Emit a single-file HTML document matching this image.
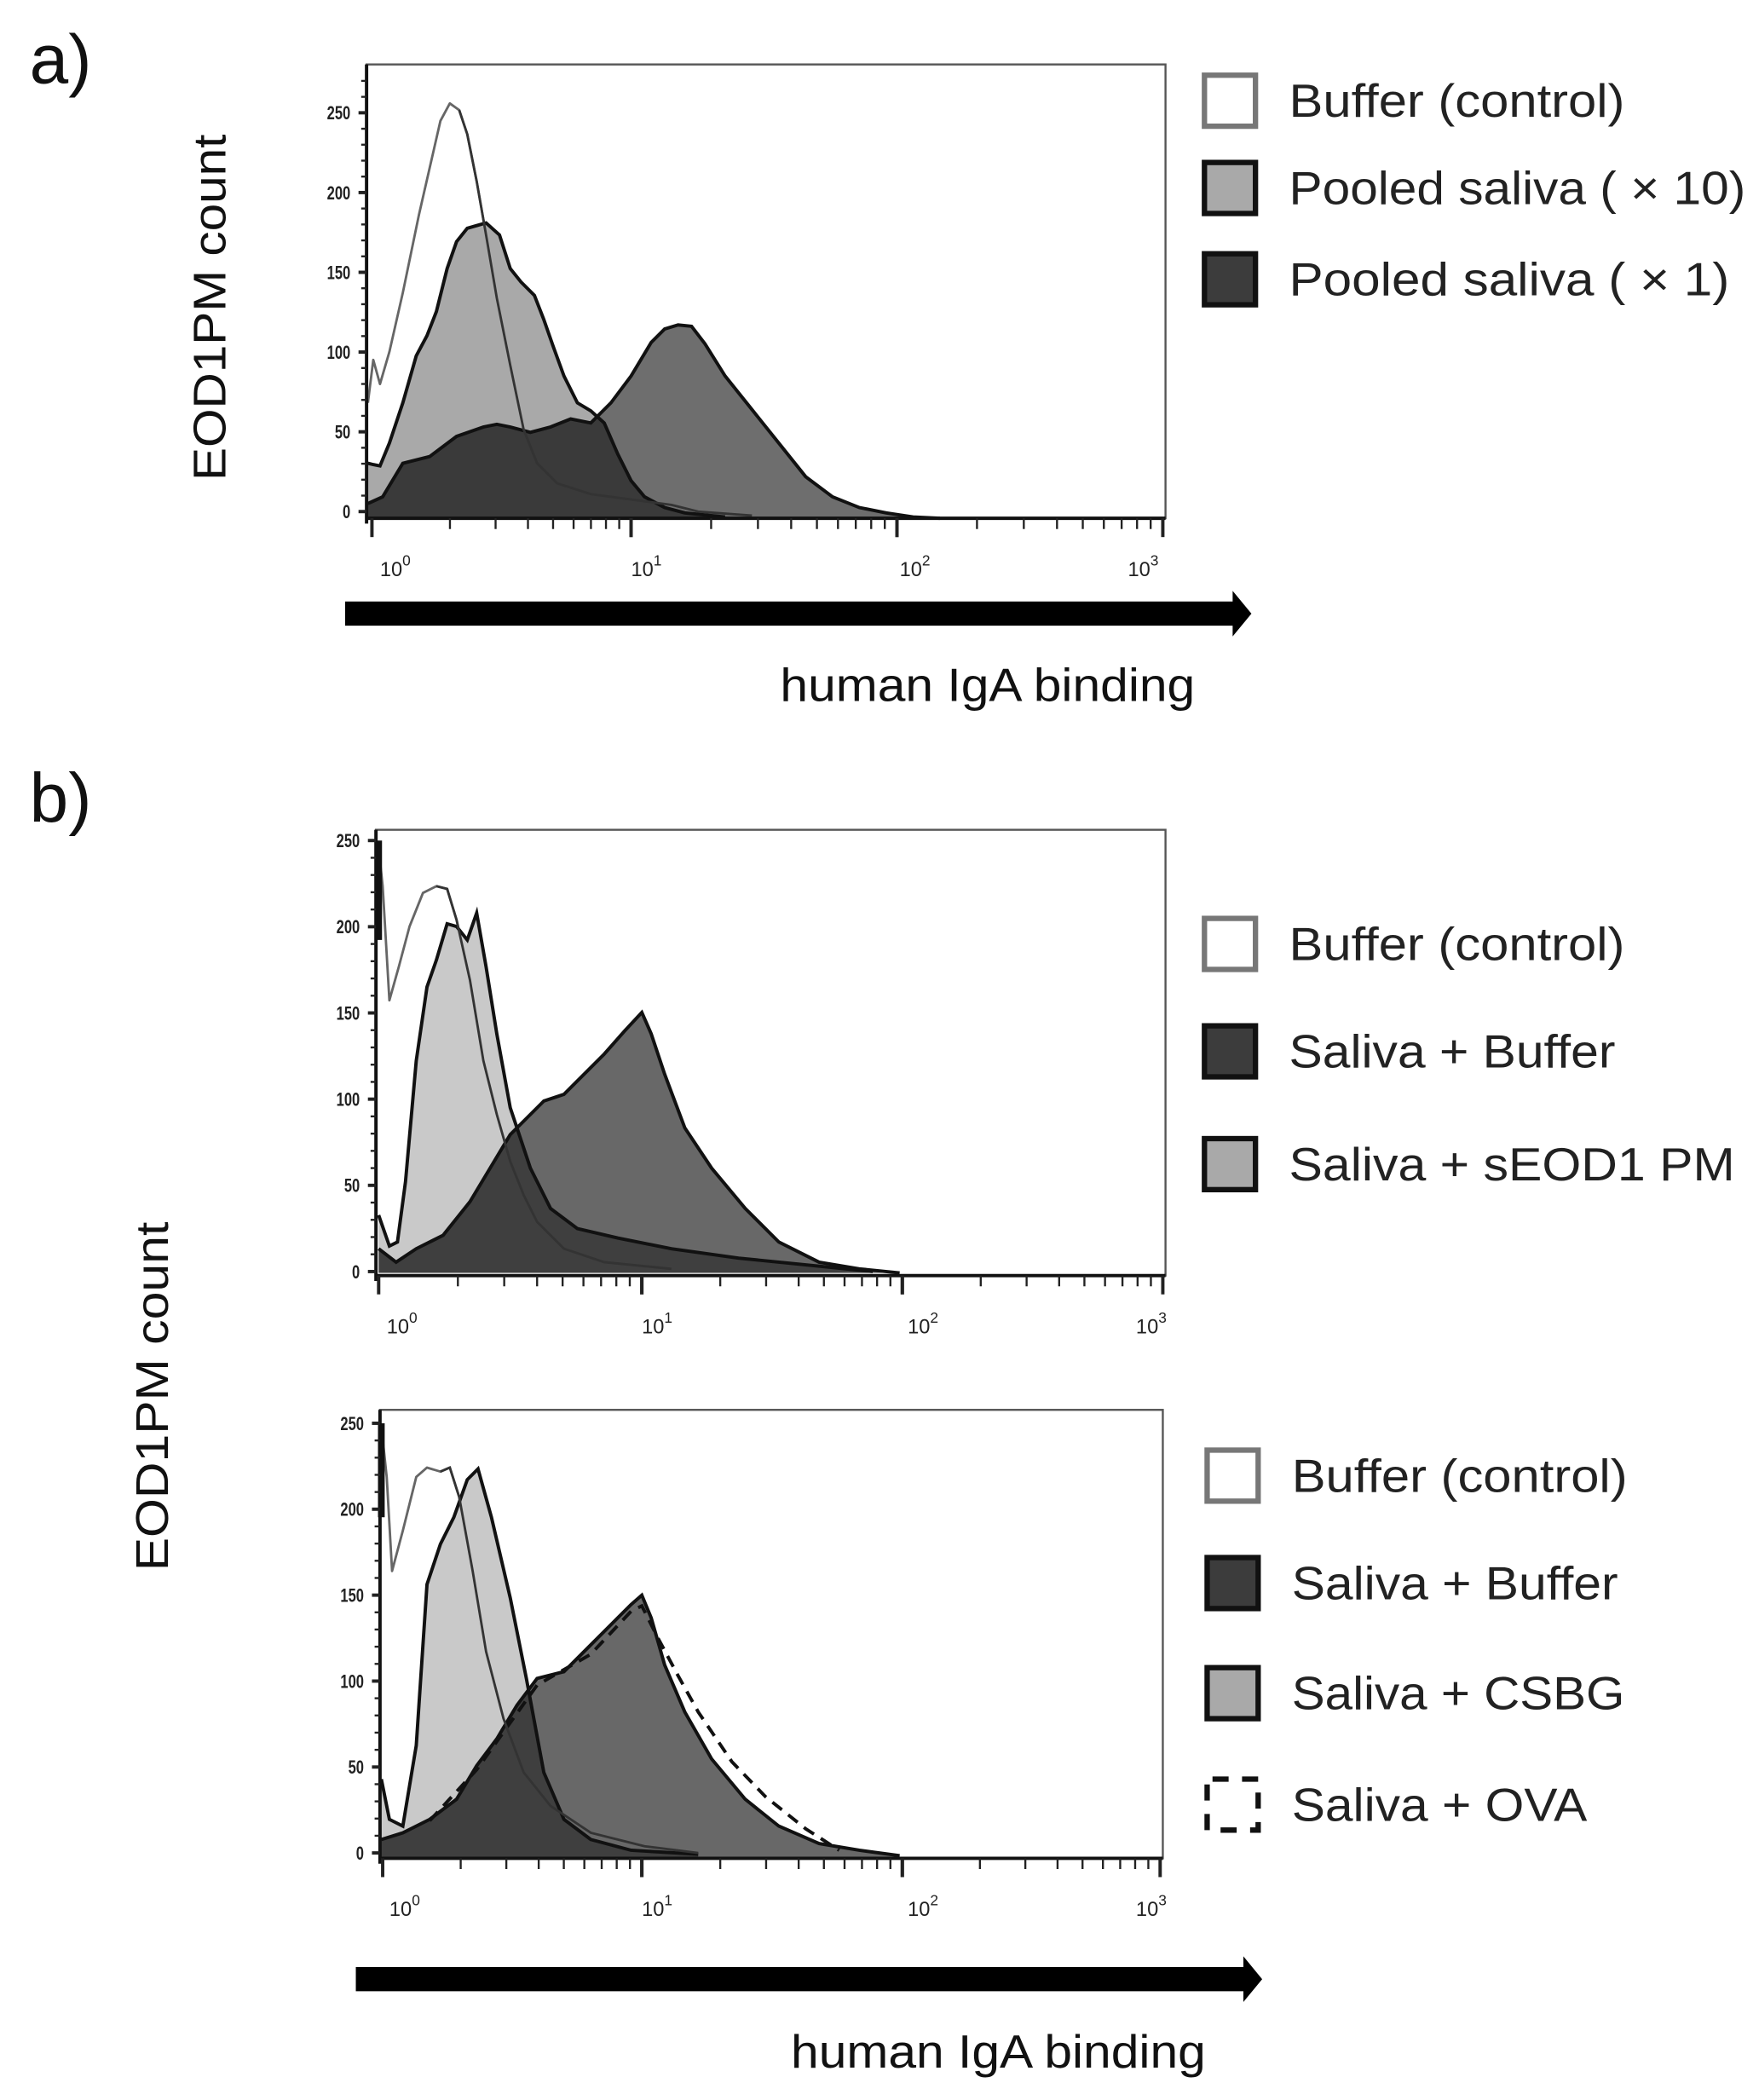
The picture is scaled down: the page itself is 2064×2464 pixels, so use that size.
<!DOCTYPE html>
<html><head><meta charset="utf-8">
<style>
html,body{margin:0;padding:0;background:#fff;}
svg{display:block;}
text{font-family:"Liberation Sans",Arial,sans-serif;}
</style></head>
<body>
<svg id="s" width="2064" height="2464" viewBox="0 0 1310 1564" preserveAspectRatio="none" xmlns="http://www.w3.org/2000/svg">
<rect width="1310" height="1564" fill="#fff"/>
<defs>
<clipPath id="ca"><path d="M273,345 L278,346 L283,347 L290,330 L300,300 L310,265 L318,250 L325,232 L333,200 L340,180 L348,170 L355,168 L362,166 L372,175 L380,200 L388,210 L398,220 L405,238 L412,258 L420,280 L430,300 L440,306 L450,315 L460,338 L470,358 L480,370 L495,378 L510,382 L540,385 L540,390 L273,390 Z"/></clipPath>
<clipPath id="cb1"><path d="M282,905 L290,928 L296,925 L302,880 L310,790 L318,735 L325,715 L333,688 L340,690 L348,700 L355,680 L362,720 L370,770 L380,825 L395,870 L410,900 L430,915 L460,922 L500,930 L550,937 L600,942 L650,947 L650,955 L282,955 Z"/></clipPath>
<clipPath id="cb2"><path d="M284,1325 L290,1355 L300,1360 L310,1300 L318,1180 L328,1150 L338,1130 L348,1102 L356,1094 L366,1130 L380,1190 L392,1250 L405,1320 L420,1355 L440,1370 L470,1378 L520,1381 L520,1390 L284,1390 Z"/></clipPath>
</defs>
<g id="g"></g>
</svg>
<script>
var g=document.getElementById('g');var h='';
function P(a){return a.map(function(p,i){return (i?'L':'M')+p[0]+','+p[1]}).join(' ');}
function area(pts,base,fill,stroke,sw,extra){var d=P(pts)+' L'+pts[pts.length-1][0]+','+base+' L'+pts[0][0]+','+base+' Z';
 h+='<path d="'+d+'" fill="'+fill+'" stroke="none" '+(extra||'')+'/>';
 if(stroke) h+='<path d="'+P(pts)+'" fill="none" stroke="'+stroke+'" stroke-width="'+sw+'" stroke-linejoin="round"/>';}
function axes(x0,x1,yt,yb,y0,y250,decs,lbls){
 h+='<rect x="'+x0+'" y="'+yt+'" width="'+(x1-x0)+'" height="'+(yb-yt)+'" fill="none" stroke="#555" stroke-width="1.5"/>';
 h+='<line x1="'+x0+'" y1="'+yt+'" x2="'+x0+'" y2="'+(yb+4)+'" stroke="#111" stroke-width="2.5"/>';
 h+='<line x1="'+x0+'" y1="'+yb+'" x2="'+x1+'" y2="'+yb+'" stroke="#111" stroke-width="2.5"/>';
 var s=(y0-y250)/250;
 for(var c=0;c<=270;c+=10){var y=y0-c*s;if(y<yt)break;var maj=c%50==0;
  h+='<line x1="'+(x0-(maj?6:4))+'" y1="'+y+'" x2="'+x0+'" y2="'+y+'" stroke="#222" stroke-width="'+(maj?2.5:1.5)+'"/>';
  if(maj)h+='<text x="'+(x0-12)+'" y="'+(y+5)+'" font-size="14" text-anchor="end" fill="#222" font-weight="bold" transform="translate('+(x0-12)+','+(y+5)+') scale(0.75,1) translate('+(-(x0-12))+','+(-(y+5))+')">'+c+'</text>';}
 for(var d=0;d<3;d++){var a=decs[d],b=decs[d+1];
  for(var k=1;k<=10;k++){var x=a+(b-a)*Math.log10(k);var maj=(k==1||k==10);
   h+='<line x1="'+x+'" y1="'+yb+'" x2="'+x+'" y2="'+(yb+(maj?14:8))+'" stroke="#222" stroke-width="'+(maj?2.5:1.5)+'"/>';}}
 for(var i=0;i<4;i++){h+='<text x="'+lbls[i]+'" y="'+(yb+43)+'" font-size="15" fill="#222">10<tspan dy="-8" font-size="11">'+i+'</tspan></text>';}
}
function legend(x,y,fill,stroke,txt,tl,dash){
 h+='<rect x="'+x+'" y="'+y+'" width="38" height="38" fill="'+fill+'" stroke="'+stroke+'" stroke-width="4" '+(dash?'stroke-dasharray="12,10" stroke-dashoffset="-4"':'')+'/>';
 h+='<text x="'+(x+63)+'" y="'+(y+31)+'" font-size="35" fill="#222" textLength="'+tl+'" lengthAdjust="spacingAndGlyphs">'+txt+'</text>';}
function arrow(x0,x1,y){h+='<path d="M'+x0+','+(y-9)+' L'+(x1-14)+','+(y-9)+' L'+(x1-14)+','+(y-17)+' L'+x1+','+y+' L'+(x1-14)+','+(y+17)+' L'+(x1-14)+','+(y+9)+' L'+x0+','+(y+9)+' Z" fill="#000"/>';}

// ---------- Panel a ----------
h+='<text x="22" y="62" font-size="52" fill="#111">a)</text>';
var buf=[[274,300],[278,268],[283,286],[290,262],[300,218],[312,160],[320,125],[328,90],[335,77],[342,82],[348,100],[355,135],[362,175],[370,222],[380,272],[390,320],[400,345],[415,360],[440,368],[470,372],[500,376],[520,381],[560,384]];
area(buf,385,'#fff','#666',1.8);
var mid=[[274,375],[285,370],[300,345],[320,340],[340,325],[360,318],[370,316],[380,318],[395,322],[410,318],[425,312],[440,315],[455,300],[470,280],[485,255],[495,245],[505,242],[515,243],[525,256],[540,280],[560,305],[580,330],[600,355],[620,370],[640,378],[660,382],[680,385],[700,386]];
var lg=[[274,345],[278,346],[283,347],[290,330],[300,300],[310,265],[318,250],[325,232],[333,200],[340,180],[348,170],[355,168],[362,166],[372,175],[380,200],[388,210],[398,220],[405,238],[412,258],[420,280],[430,300],[440,306],[450,315],[460,338],[470,358],[480,370],[495,378],[510,382],[540,385]];
area(mid,386,'#6e6e6e',null);
area(lg,386,'#a9a9a9',null);
area(mid,386,'#3a3a3a',null,0,'clip-path="url(#ca)"');
h+='<path d="'+P(mid)+'" fill="none" stroke="#111" stroke-width="2.5"/>';
h+='<path d="'+P(lg)+'" fill="none" stroke="#111" stroke-width="2.5"/>';
h+='<path d="'+P(buf.slice(9))+'" fill="none" stroke="#333" stroke-width="1.8"/>';
axes(273,868,48,386,381,84,[277,470,668,866],[283,470,670,840]);
legend(897,56,'#fff','#777','Buffer (control)',250);
legend(897,121,'#a9a9a9','#111','Pooled saliva ( × 10)',340);
legend(897,189,'#3c3c3c','#111','Pooled saliva ( ×  1)',328);
h+='<text x="168" y="229" font-size="34" fill="#111" text-anchor="middle" textLength="258" lengthAdjust="spacingAndGlyphs" transform="rotate(-90 168 229)">EOD1PM count</text>';
arrow(257,932,457);
h+='<text x="581" y="522" font-size="35" fill="#111" textLength="309" lengthAdjust="spacingAndGlyphs">human IgA binding</text>';

// ---------- Panel b top ----------
h+='<text x="22" y="612" font-size="52" fill="#111">b)</text>';
var b1buf=[[282,632],[285,660],[290,745],[297,720],[305,690],[315,665],[325,660],[333,662],[340,685],[350,730],[360,790],[370,830],[380,865],[390,890],[400,910],[420,930],[450,940],[500,945]];
var b1lg=[[282,905],[290,928],[296,925],[302,880],[310,790],[318,735],[325,715],[333,688],[340,690],[348,700],[355,680],[362,720],[370,770],[380,825],[395,870],[410,900],[430,915],[460,922],[500,930],[550,937],[600,942],[650,947]];
var b1d=[[282,930],[295,940],[310,930],[330,920],[350,895],[365,870],[380,845],[395,830],[405,820],[420,815],[435,800],[450,785],[465,768],[478,754],[485,770],[495,800],[510,840],[530,870],[555,900],[580,925],[610,940],[640,945],[670,948]];
area(b1buf,948,'#fff','#666',1.8);
area(b1lg,948,'#c9c9c9',null);
area(b1d,948,'#686868',null);
area(b1d,948,'#3f3f3f',null,0,'clip-path="url(#cb1)"');
h+='<path d="'+P(b1d)+'" fill="none" stroke="#111" stroke-width="2.5"/>';
h+='<path d="'+P(b1lg)+'" fill="none" stroke="#111" stroke-width="2.5"/>';
h+='<path d="'+P(b1buf.slice(6))+'" fill="none" stroke="#333" stroke-width="1.8"/>';
h+='<line x1="282" y1="626" x2="282" y2="700" stroke="#111" stroke-width="5"/>';
axes(280,868,618,950,947,626,[282,478,672,866],[288,478,676,846]);
legend(897,684,'#fff','#777','Buffer (control)',250);
legend(897,764,'#3c3c3c','#111','Saliva + Buffer',243);
legend(897,848,'#a9a9a9','#111','Saliva + sEOD1 PM',332);

// ---------- Panel b bottom ----------
var b2buf=[[284,1062],[288,1100],[292,1170],[300,1140],[310,1100],[318,1093],[328,1096],[335,1093],[342,1115],[352,1170],[362,1230],[375,1280],[390,1320],[410,1345],[440,1365],[480,1375],[520,1380]];
var b2lg=[[284,1325],[290,1355],[300,1360],[310,1300],[318,1180],[328,1150],[338,1130],[348,1102],[356,1094],[366,1130],[380,1190],[392,1250],[405,1320],[420,1355],[440,1370],[470,1378],[520,1381]];
var b2d=[[284,1370],[300,1365],[320,1355],[340,1340],[355,1315],[370,1295],[385,1270],[400,1250],[420,1245],[440,1225],[460,1205],[470,1195],[478,1188],[485,1205],[495,1240],[510,1275],[530,1310],[555,1340],[580,1360],[610,1373],[640,1378],[670,1382]];
var ova=[[320,1356],[355,1318],[400,1255],[440,1232],[470,1200],[478,1196],[490,1220],[505,1248],[520,1275],[545,1312],[570,1338],[600,1362],[625,1378]];
area(b2buf,1383,'#fff','#666',1.8);
area(b2lg,1383,'#c9c9c9',null);
area(b2d,1383,'#686868',null);
area(b2d,1383,'#3f3f3f',null,0,'clip-path="url(#cb2)"');
h+='<path d="'+P(b2d)+'" fill="none" stroke="#111" stroke-width="2.5"/>';
h+='<path d="'+P(ova)+'" fill="none" stroke="#111" stroke-width="2.5" stroke-dasharray="9,6"/>';
h+='<path d="'+P(b2lg)+'" fill="none" stroke="#111" stroke-width="2.5"/>';
h+='<path d="'+P(b2buf.slice(6))+'" fill="none" stroke="#333" stroke-width="1.8"/>';
h+='<line x1="284" y1="1060" x2="284" y2="1130" stroke="#111" stroke-width="5"/>';
axes(283,866,1050,1384,1380,1060,[285,478,672,864],[290,478,676,846]);
legend(899,1080,'#fff','#777','Buffer (control)',250);
legend(899,1160,'#3c3c3c','#111','Saliva + Buffer',243);
legend(899,1242,'#a9a9a9','#111','Saliva + CSBG',248);
legend(899,1325,'#fff','#111','Saliva + OVA',220,true);
h+='<text x="125" y="1040" font-size="34" fill="#111" text-anchor="middle" textLength="260" lengthAdjust="spacingAndGlyphs" transform="rotate(-90 125 1040)">EOD1PM count</text>';
arrow(265,940,1474);
h+='<text x="589" y="1540" font-size="35" fill="#111" textLength="309" lengthAdjust="spacingAndGlyphs">human IgA binding</text>';
g.innerHTML=h;
</script>
</body></html>
